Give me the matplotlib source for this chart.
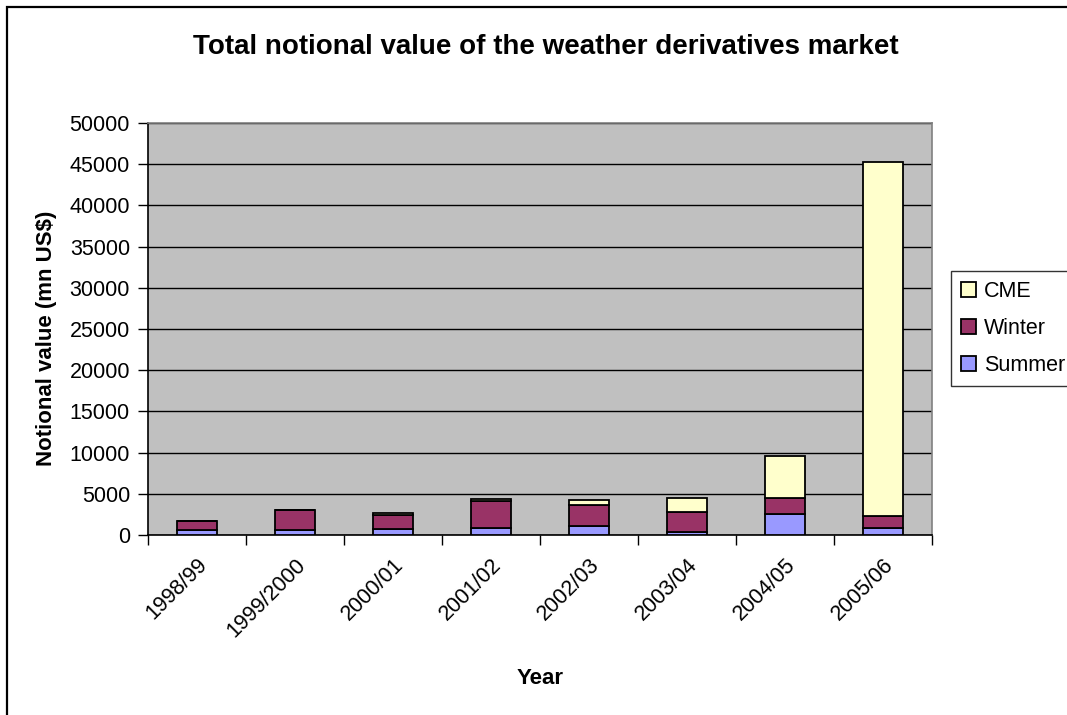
import numpy as np
import matplotlib
matplotlib.use("Agg")
import matplotlib.pyplot as plt
from matplotlib.patches import Rectangle

plt.rcParams['font.family'] = ['Liberation Sans', 'DejaVu Sans']

# data (mn US$)
years = ['1998/99', '1999/2000', '2000/01', '2001/02', '2002/03', '2003/04', '2004/05', '2005/06']
summer = [650, 650, 690, 800, 1050, 400, 2500, 850]
winter = [1040, 2350, 1750, 3290, 2540, 2340, 1980, 1490]
cme = [0, 0, 220, 220, 680, 1780, 5120, 42960]

W, H = 1067, 715
fig = plt.figure(figsize=(W / 100, H / 100), dpi=100)
fig.patch.set_facecolor('white')

# chart-area border (runs off the right and bottom edge like the source)
fig.patches.append(Rectangle((7 / W, -0.1), 1.2, 1.1 - 7 / H,
                             transform=fig.transFigure, fill=False,
                             edgecolor='black', linewidth=1.6))

ax = fig.add_axes([148 / W, 1 - 535 / H, (932 - 148) / W, (535 - 123) / H])
ax.set_facecolor('#C0C0C0')

x = np.arange(len(years))
bw = 0.4
s = np.array(summer)
w = np.array(winter)
c = np.array(cme)
ax.bar(x, s, bw, color='#9999FF', edgecolor='black', linewidth=1.3, label='Summer', zorder=3)
ax.bar(x, w, bw, bottom=s, color='#993366', edgecolor='black', linewidth=1.3, label='Winter', zorder=3)
ax.bar(x, c, bw, bottom=s + w, color='#FFFFCC', edgecolor='black', linewidth=1.3, label='CME', zorder=3)

ax.set_xlim(-0.5, len(years) - 0.5)
ax.set_ylim(0, 50000)
ax.set_yticks(np.arange(0, 50001, 5000))
ax.tick_params(axis='y', labelsize=15.5, length=7, width=1, direction='out', pad=6)
ax.yaxis.grid(True, color='black', linewidth=1, zorder=1)
ax.set_axisbelow(True)

# category ticks sit between the bars, labels under the bars
ax.set_xticks(np.arange(-0.5, len(years), 1.0))
ax.set_xticklabels([])
ax.set_xticks(x, minor=True)
ax.set_xticklabels(years, minor=True, rotation=45, ha='right', rotation_mode='anchor', fontsize=15.5)
ax.tick_params(axis='x', which='major', length=7, width=1, direction='out')
ax.tick_params(axis='x', which='minor', length=0, pad=14)

for side in ['top', 'right']:
    ax.spines[side].set_color('#808080')
    ax.spines[side].set_linewidth(1.2)
for side in ['left', 'bottom']:
    ax.spines[side].set_color('black')
    ax.spines[side].set_linewidth(1.2)

fig.text(546 / W, 1 - 47 / H, 'Total notional value of the weather derivatives market',
         ha='center', va='center', fontsize=20, fontweight='bold')
fig.text(47 / W, 1 - 338 / H, 'Notional value (mn US$)', rotation=90,
         ha='center', va='center', fontsize=16, fontweight='bold')
fig.text(540 / W, 1 - 678 / H, 'Year', ha='center', va='center',
         fontsize=16, fontweight='bold')

handles, labels = ax.get_legend_handles_labels()
leg = fig.legend(handles[::-1], labels[::-1], loc='upper left',
                 bbox_to_anchor=(951 / W, 1 - 271 / H), fontsize=15.5,
                 frameon=True, fancybox=False, edgecolor='black',
                 handlelength=0.7, handleheight=0.7, handletextpad=0.4,
                 labelspacing=0.75, borderpad=0.45, borderaxespad=0)
leg.get_frame().set_linewidth(1)

fig.savefig('out.png', dpi=100)
